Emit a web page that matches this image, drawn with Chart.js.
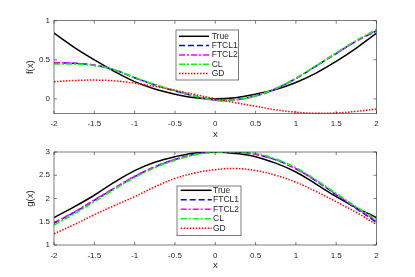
<!DOCTYPE html>
<html>
<head>
<meta charset="utf-8">
<script src="https://cdn.jsdelivr.net/npm/chart.js@4/dist/chart.umd.min.js"></script>
<style>
  html, body { margin: 0; padding: 0; background: #fff; }
  #wrap { position: relative; width: 415px; height: 277px; }
  .box { position: absolute; left: 0; width: 415px; }
</style>
</head>
<body>
<div id="wrap">
  <div class="box" style="top:0;height:138px"><canvas id="topChart"></canvas></div>
  <div class="box" style="top:138px;height:139px"><canvas id="bottomChart"></canvas></div>
</div>
<script>
// x samples shared by both panels
const xs = [-2, -1.75, -1.5, -1.25, -1, -0.75, -0.5, -0.25, 0, 0.25, 0.5, 0.75, 1, 1.25, 1.5, 1.75, 2];
const xTicks = [-2, -1.5, -1, -0.5, 0, 0.5, 1, 1.5, 2];

// f(x) panel
const fTrue  = [0.84, 0.66, 0.5, 0.35, 0.22, 0.125, 0.06, 0.015, 0, 0.015, 0.06, 0.12, 0.21, 0.33, 0.48, 0.65, 0.84];
const fFtcl1 = [0.46, 0.455, 0.43, 0.37, 0.27, 0.18, 0.10, 0.035, -0.015, -0.01, 0.04, 0.13, 0.26, 0.42, 0.58, 0.74, 0.87];
const fFtcl2 = [0.465, 0.455, 0.43, 0.37, 0.27, 0.18, 0.105, 0.035, -0.02, -0.015, 0.035, 0.125, 0.26, 0.42, 0.58, 0.74, 0.875];
const fCl    = [0.445, 0.445, 0.425, 0.37, 0.275, 0.185, 0.105, 0.035, -0.015, -0.01, 0.04, 0.135, 0.265, 0.425, 0.59, 0.75, 0.89];
const fGd    = [0.22, 0.235, 0.24, 0.23, 0.20, 0.16, 0.11, 0.055, 0.0, -0.05, -0.095, -0.14, -0.17, -0.185, -0.18, -0.16, -0.13];
const fTicks = [0, 0.5, 1];

// g(x) panel
const gTrue  = [1.59, 1.82, 2.07, 2.35, 2.6, 2.78, 2.9, 2.98, 3.0, 2.97, 2.9, 2.76, 2.57, 2.31, 2.04, 1.8, 1.59];
const gFtcl1 = [1.47, 1.70, 1.96, 2.22, 2.47, 2.68, 2.84, 2.95, 3.0, 3.0, 2.95, 2.83, 2.64, 2.38, 2.08, 1.78, 1.49];
const gFtcl2 = [1.48, 1.71, 1.97, 2.23, 2.48, 2.68, 2.84, 2.95, 3.0, 3.0, 2.95, 2.83, 2.64, 2.38, 2.09, 1.8, 1.52];
const gCl    = [1.43, 1.67, 1.93, 2.2, 2.45, 2.66, 2.82, 2.94, 2.99, 3.0, 2.97, 2.85, 2.66, 2.4, 2.11, 1.82, 1.55];
const gGd    = [1.24, 1.44, 1.65, 1.85, 2.04, 2.25, 2.43, 2.55, 2.62, 2.645, 2.6, 2.5, 2.35, 2.15, 1.93, 1.7, 1.44];
const gTicks = [1, 1.5, 2, 2.5, 3];

const seriesNames = ['True', 'FTCL1', 'FTCL2', 'CL', 'GD'];
const styles = [
    { color: '#000000', dash: [] },
    { color: '#0000ff', dash: [6, 3] },
    { color: '#ff00ff', dash: [6, 2, 2, 2] },
    { color: '#00ff00', dash: [6, 2, 2, 2] },
    { color: '#ff0000', dash: [1.5, 1.5] }
];

const axisColor = '#262626';
const fontFamily = '"Liberation Sans", Arial, sans-serif';

// box, inward ticks on all four sides and axis titles, MATLAB style
const boxPlugin = {
    id: 'box',
    afterDraw(chart, args, opts) {
        const { ctx, chartArea: a, scales } = chart;
        ctx.save();
        ctx.strokeStyle = axisColor;
        ctx.lineWidth = 0.6;
        ctx.setLineDash([]);
        ctx.strokeRect(a.left, a.top, a.right - a.left, a.bottom - a.top);
        const len = 3;
        ctx.beginPath();
        scales.x.ticks.forEach(t => {
            const px = scales.x.getPixelForValue(t.value);
            ctx.moveTo(px, a.bottom); ctx.lineTo(px, a.bottom - len);
            ctx.moveTo(px, a.top); ctx.lineTo(px, a.top + len);
        });
        scales.y.ticks.forEach(t => {
            const py = scales.y.getPixelForValue(t.value);
            ctx.moveTo(a.left, py); ctx.lineTo(a.left + len, py);
            ctx.moveTo(a.right, py); ctx.lineTo(a.right - len, py);
        });
        ctx.stroke();

        ctx.fillStyle = axisColor;
        ctx.font = '9.5px ' + fontFamily;
        ctx.textAlign = 'center';
        ctx.textBaseline = 'middle';
        ctx.fillText(opts.xTitle, (a.left + a.right) / 2, a.bottom + opts.xTitleGap);
        ctx.translate(opts.yTitleX, (a.top + a.bottom) / 2);
        ctx.rotate(-Math.PI / 2);
        ctx.fillText(opts.yTitle, 0, 0);
        ctx.restore();
    }
};

// legend box drawn inside the plot
const legendPlugin = {
    id: 'boxLegend',
    afterDraw(chart, args, opts) {
        const { ctx } = chart;
        const b = opts.box;
        ctx.save();
        ctx.fillStyle = '#fff';
        ctx.fillRect(b.x, b.y, b.w, b.h);
        ctx.strokeStyle = axisColor;
        ctx.lineWidth = 0.6;
        ctx.setLineDash([]);
        ctx.strokeRect(b.x, b.y, b.w, b.h);
        ctx.font = '8.5px ' + fontFamily;
        ctx.textBaseline = 'middle';
        seriesNames.forEach((name, i) => {
            const y = b.rowTop + i * b.rowStep;
            ctx.strokeStyle = styles[i].color;
            ctx.lineWidth = 1.5;
            ctx.setLineDash(styles[i].dash);
            ctx.beginPath();
            ctx.moveTo(b.lineX0, y);
            ctx.lineTo(b.lineX1, y);
            ctx.stroke();
            ctx.fillStyle = axisColor;
            ctx.fillText(name, b.textX, y);
        });
        ctx.restore();
    }
};

function makeChart(canvasId, values, yMin, yMax, yTicks, yTitle, pad, legendBox) {
    const datasets = values.map((vals, i) => ({
        label: seriesNames[i],
        data: xs.map((x, j) => ({ x: x, y: vals[j] })),
        borderColor: styles[i].color,
        borderDash: styles[i].dash,
        borderWidth: 1.5,
        pointRadius: 0,
        tension: 0.4,
        fill: false,
        order: 5 - i
    }));

    return new Chart(document.getElementById(canvasId), {
        type: 'line',
        data: { datasets },
        options: {
            responsive: true,
            maintainAspectRatio: false,
            animation: false,
            layout: { padding: pad },
            plugins: {
                legend: { display: false },
                tooltip: { enabled: false },
                box: { xTitle: 'x', yTitle: yTitle, xTitleGap: 20.5, yTitleX: 30.7 },
                boxLegend: { box: legendBox }
            },
            scales: {
                x: {
                    type: 'linear',
                    min: -2,
                    max: 2,
                    afterBuildTicks: s => { s.ticks = xTicks.map(v => ({ value: v })); },
                    afterFit: s => { s.height = 24; },
                    grid: { display: false, drawTicks: false },
                    border: { display: false },
                    ticks: {
                        color: axisColor,
                        font: { family: fontFamily, size: 8 },
                        padding: 5.5,
                        maxRotation: 0,
                        callback: v => String(v)
                    }
                },
                y: {
                    type: 'linear',
                    min: yMin,
                    max: yMax,
                    afterBuildTicks: s => { s.ticks = yTicks.map(v => ({ value: v })); },
                    afterFit: s => { s.width = 54; },
                    grid: { display: false, drawTicks: false },
                    border: { display: false },
                    ticks: {
                        color: axisColor,
                        font: { family: fontFamily, size: 8 },
                        padding: 4,
                        callback: v => String(v)
                    }
                }
            }
        },
        plugins: [boxPlugin, legendPlugin]
    });
}

makeChart('topChart', [fTrue, fFtcl1, fFtcl2, fCl, fGd], -0.19, 1, fTicks, 'f(x)',
    { left: 0, right: 38.5, top: 20.7, bottom: 0.3 },
    { x: 176, y: 30, w: 62.7, h: 50, rowTop: 36.3, rowStep: 9.3, lineX0: 179, lineX1: 209, textX: 211.7 });

makeChart('bottomChart', [gTrue, gFtcl1, gFtcl2, gCl, gGd], 1, 3, gTicks, 'g(x)',
    { left: 0, right: 38.5, top: 14, bottom: 8 },
    { x: 177, y: 48, w: 64, h: 49.7, rowTop: 52.3, rowStep: 9.5, lineX0: 180.7, lineX1: 211.7, textX: 213 });
</script>
</body>
</html>
